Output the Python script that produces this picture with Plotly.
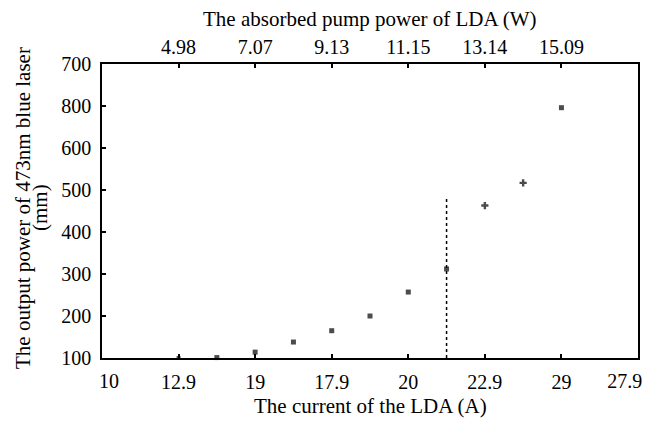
import plotly.graph_objects as go

# Data
current_A = [12.5, 13.75, 15.0, 16.25, 17.5, 18.75, 20.0, 21.25, 22.5, 23.75, 25.0]
output_power = [100, 101, 114, 138, 165, 200, 257, 312, 463, 517, 696]
marker_symbols = ["square", "square", "square", "square", "square", "square",
                  "square", "square", "cross", "cross", "square"]

# Bottom axis ticks (inner ticks with marks)
bottom_tickvals = [12.5, 15, 17.5, 20, 22.5, 25]
bottom_ticktext = ["12.9", "19", "17.9", "20", "22.9", "29"]
# Bottom axis end labels (no marks, nudged inward as in the reference)
end_tickvals = [10.23, 27.07]
end_ticktext = ["10", "27.9"]

# Top axis ticks
top_tickvals = [12.5, 15, 17.5, 20, 22.5, 25]
top_ticktext = ["4.98", "7.07", "9.13", "11.15", "13.14", "15.09"]

# Y axis ticks
y_tickvals = [100, 200, 300, 400, 500, 600, 700, 800]
y_ticktext = ["100", "200", "300", "400", "500", "600", "800", "700"]

# Threshold dotted line
thr_x = [21.25, 21.25]
thr_y = [100, 484]

FONT = "Liberation Serif, Times New Roman, serif"
TICK_SIZE = 20
TITLE_SIZE = 21

# page body has an 8px margin; compensate so the plot lands where the reference has it
OFF = 8
W, H = 656, 424
L, T = 102 - OFF, 64 - OFF
R = W - (638 - OFF)
B = H - (358 - OFF)
PW, PH = W - L - R, H - T - B


def px_x(sx):
    return (sx - OFF - L) / PW


def px_y(sy):
    return (H - B - (sy - OFF)) / PH


fig = go.Figure()
fig.add_trace(go.Scatter(
    x=thr_x, y=thr_y, mode="lines",
    line=dict(color="black", width=1.5, dash="dot"),
    showlegend=False, hoverinfo="skip",
))
fig.add_trace(go.Scatter(
    x=current_A, y=output_power, mode="markers",
    marker=dict(symbol=marker_symbols,
                size=[4, 5, 5, 5, 5, 5, 5, 5, 6, 6, 5],
                color="black", line=dict(width=0)),
    cliponaxis=False, showlegend=False,
))
# invisible traces to activate the extra axes
fig.add_trace(go.Scatter(
    x=[10, 27.5], y=[100, 100], xaxis="x2", mode="markers",
    marker=dict(opacity=0), showlegend=False, hoverinfo="skip",
))
fig.add_trace(go.Scatter(
    x=[10, 27.5], y=[100, 100], xaxis="x3", mode="markers",
    marker=dict(opacity=0), showlegend=False, hoverinfo="skip",
))

common_tick = dict(ticks="inside", ticklen=4, tickwidth=1.5, tickcolor="black",
                   showgrid=False, zeroline=False, automargin=False,
                   ticklabelstandoff=5,
                   tickfont=dict(family=FONT, size=TICK_SIZE, color="black"))

fig.update_layout(
    width=W, height=H,
    margin=dict(l=L, r=R, t=T, b=B),
    paper_bgcolor="white", plot_bgcolor="white",
    font=dict(family=FONT, size=TICK_SIZE, color="black"),
    xaxis=dict(
        range=[10, 27.5], tickmode="array",
        tickvals=bottom_tickvals, ticktext=bottom_ticktext,
        showline=True, linecolor="black", linewidth=1.5, mirror=True,
        **common_tick,
    ),
    xaxis2=dict(
        range=[10, 27.5], overlaying="x", side="top", anchor="y",
        tickmode="array", tickvals=top_tickvals, ticktext=top_ticktext,
        showline=False, **common_tick,
    ),
    xaxis3=dict(
        range=[10, 27.5], overlaying="x", side="bottom", anchor="y",
        tickmode="array", tickvals=end_tickvals, ticktext=end_ticktext,
        showline=False, showgrid=False, zeroline=False, automargin=False,
        ticks="", ticklen=4, ticklabelstandoff=9,
        tickfont=dict(family=FONT, size=TICK_SIZE, color="black"),
    ),
    yaxis=dict(
        range=[100, 800], tickmode="array",
        tickvals=y_tickvals, ticktext=y_ticktext,
        showline=True, linecolor="black", linewidth=1.5, mirror=True,
        **common_tick,
    ),
    annotations=[
        dict(text="The current of the LDA (A)", xref="paper", yref="paper",
             x=0.5, y=px_y(406), xanchor="center", yanchor="middle",
             showarrow=False, font=dict(family=FONT, size=TITLE_SIZE)),
        dict(text="The absorbed pump power of LDA (W)", xref="paper", yref="paper",
             x=0.5, y=px_y(19), xanchor="center", yanchor="middle",
             showarrow=False, font=dict(family=FONT, size=TITLE_SIZE)),
        dict(text="The output power of 473nm blue laser", xref="paper", yref="paper",
             x=px_x(23), y=px_y(208), xanchor="center", yanchor="middle",
             textangle=-90, showarrow=False, font=dict(family=FONT, size=TITLE_SIZE)),
        dict(text="(mm)", xref="paper", yref="paper",
             x=px_x(40), y=px_y(208), xanchor="center", yanchor="middle",
             textangle=-90, showarrow=False, font=dict(family=FONT, size=TITLE_SIZE)),
    ],
)

fig.write_html("out.html")
